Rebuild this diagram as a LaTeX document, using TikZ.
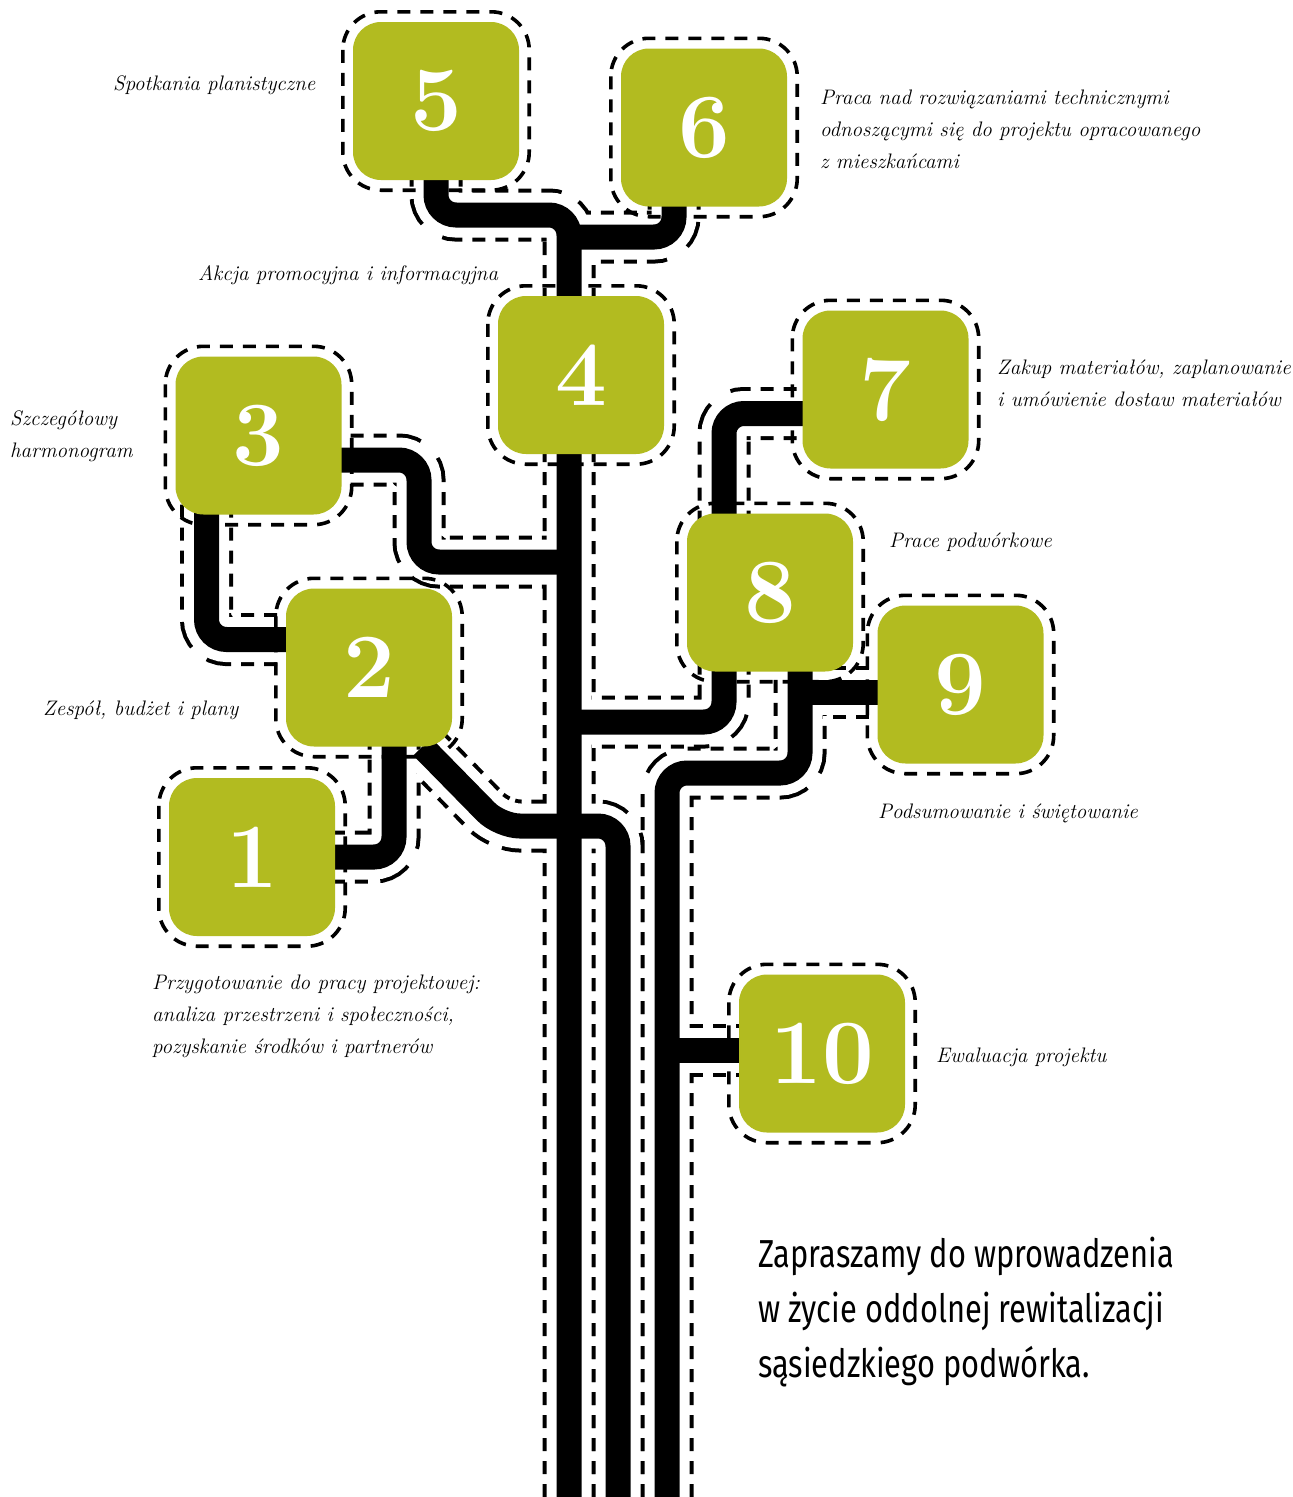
\documentclass[tikz,border=0pt]{standalone}
\usepackage{fontspec}
\usepackage{tikz}
\newfontfamily\leadfont{Fira Sans}
\definecolor{leaf}{RGB}{178,187,32}

\pgfdeclarelayer{bg}
\pgfsetlayers{bg,main}

\tikzset{
  stage/.style={fill=leaf, text=white, rounded corners=28pt, inner sep=0pt,
    minimum width=166pt, minimum height=158pt,
    font=\fontsize{92}{92}\selectfont\bfseries},
  note/.style={anchor=base west, inner sep=0pt, align=left,
    font=\fontsize{21}{32}\selectfont\itshape},
  roadedge/.style={line width=53pt, dash pattern=on 13pt off 10pt, rounded corners=20pt},
  roadgap/.style={white, line width=45pt, rounded corners=20pt},
  roadline/.style={line width=25pt, rounded corners=20pt},
  halo/.style={line width=3.6pt, dash pattern=on 13pt off 10pt, rounded corners=38pt},
}

% every road once; called for the dashed edges, the white gap and the black line
\newcommand{\roadpaths}[1]{
  \draw[#1] (t1) |- (436,215) -- (e5.center);
  \draw[#1] (t2) |- (500,826) -- ([xshift=-30pt]e2.south east);
  \draw[#1] (t3) |- (800,773) -- ([xshift=30pt]e8.center);
  \draw[#1] ([xshift=-30pt]e6.center) |- (j6);
  \draw[#1] ([yshift=-24.5pt]e3.center) -| (419,562) -- (j3);
  \draw[#1] ([xshift=-52pt]e3.center) |- ([yshift=28pt]e2.center);
  \draw[#1] ([xshift=25pt]e2.center) |- (e1.center);
  \draw[#1] ([xshift=-46pt]e8.center) |- (j8);
  \draw[#1] ([xshift=-46pt]e8.center) |- ([yshift=-24pt]e7.center);
  \draw[#1] ([yshift=-7.5pt]e9.center) -- (j9);
  \draw[#1] (j10) -- ([yshift=3.5pt]e10.center);
}

\begin{document}
\begin{tikzpicture}[x=1pt, y=-1pt]
  \useasboundingbox (0,0) rectangle (1293,1497);

  % the ten stages
  \node[stage] (e1) at (252,857) {1};
  \node[stage] (e2) at (369,667.5) {2};
  \node[stage] (e3) at (258.5,435.5) {3};
  \node[stage] (e4) at (581,375) {4};
  \node[stage] (e5) at (436,101) {5};
  \node[stage] (e6) at (704,127.5) {6};
  \node[stage] (e7) at (885.5,389.5) {7};
  \node[stage] (e8) at (770,592.5) {8};
  \node[stage] (e9) at (960.5,684.5) {9};
  \node[stage] (e10) at (822,1053.5) {10};

  % trunk ends and junctions
  \coordinate (t1) at (569,1497);
  \coordinate (t2) at (618,1497);
  \coordinate (t3) at (667,1497);
  \coordinate (j3) at (569,562);
  \coordinate (j6) at (569,237);
  \coordinate (j8) at (569,722);
  \coordinate (j9) at (800,692);
  \coordinate (j10) at (667,1050);

  \begin{pgfonlayer}{bg}
    \fill[white] (0,0) rectangle (1293,1497);
    \roadpaths{roadedge}
    \roadpaths{roadgap}
    \foreach \n in {1,...,10}{
      \draw[halo] ([shift={(-10pt,10pt)}]e\n.north west) rectangle ([shift={(10pt,-10pt)}]e\n.south east);
    }
    \roadpaths{roadline}
  \end{pgfonlayer}

  % notes (multi-line ones sit on their last line)
  \node[note] (n5) at (113,90) {Spotkania planistyczne};
  \node[note] (n6) at (820,168) {Praca nad rozwiązaniami technicznymi\\odnoszącymi się do projektu opracowanego\\z mieszkańcami};
  \node[note] (n4) at (198,280) {Akcja promocyjna i informacyjna};
  \node[note] (n3) at (10,457) {Szczegółowy\\harmonogram};
  \node[note] (n2) at (43,715) {Zespół, budżet i plany};
  \node[note] (n1) at (152,1053) {Przygotowanie do pracy projektowej:\\analiza przestrzeni i społeczności,\\pozyskanie środków i partnerów};
  \node[note] (n7) at (997,406) {Zakup materiałów, zaplanowanie\\i umówienie dostaw materiałów};
  \node[note] (n8) at (889,547) {Prace podwórkowe};
  \node[note] (n9) at (878,818) {Podsumowanie i świętowanie};
  \node[note] (n10) at (936,1062) {Ewaluacja projektu};

  \node[anchor=base west, inner sep=0pt, align=left, xscale=0.79, transform shape,
    font=\leadfont\fontsize{39}{55}\selectfont] (lead) at (758,1377)
    {Zapraszamy do wprowadzenia\\w życie oddolnej rewitalizacji\\sąsiedzkiego podwórka.};
\end{tikzpicture}
\end{document}
